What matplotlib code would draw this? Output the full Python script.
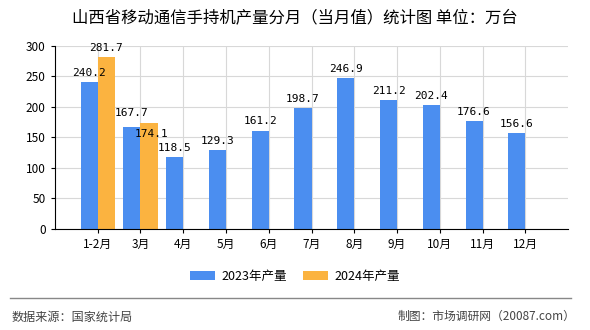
import matplotlib.pyplot as plt
import numpy as np

plt.rcParams['font.family'] = ['Noto Sans CJK SC', 'DejaVu Sans']

months = ['1-2月', '3月', '4月', '5月', '6月', '7月', '8月', '9月', '10月', '11月', '12月']
prod_2023 = [240.2, 167.7, 118.5, 129.3, 161.2, 198.7, 246.9, 211.2, 202.4, 176.6, 156.6]
prod_2024 = [281.7, 174.1]

blue = '#4b8ef0'
orange = '#fbb340'

fig = plt.figure(figsize=(5.9, 3.3), dpi=100)
ax = fig.add_axes([0.093, 0.306, 0.87, 0.555])

x = np.arange(len(months))
w = 0.4
ax.bar(x - w / 2, prod_2023, w, color=blue, label='2023年产量', zorder=2)
ax.bar(x[:len(prod_2024)] + w / 2, prod_2024, w, color=orange, label='2024年产量', zorder=2)

# value labels above the bars
for i, (xi, v) in enumerate(zip(x, prod_2023)):
    dy = 6 if i == 1 else 3
    ax.annotate(f'{v}', (xi - w / 2, v), xytext=(0, dy), textcoords='offset points',
                ha='center', va='bottom', fontsize=8, family='DejaVu Sans Mono')
for i, (xi, v) in enumerate(zip(x, prod_2024)):
    dy = 3 if i == 0 else -12   # 3月 label pushed down to clear its neighbour
    ax.annotate(f'{v}', (xi + w / 2 + 0.05 * i, v), xytext=(0, dy), textcoords='offset points',
                ha='center', va='bottom', fontsize=8, family='DejaVu Sans Mono')

ax.set_xlim(-1, 11)
ax.set_ylim(0, 300)
ax.set_yticks(range(0, 301, 50))
ax.set_xticks(x)
ax.set_xticklabels(months)
ax.tick_params(labelsize=8.5, length=3)
ax.grid(color='#d8d8d8', linewidth=0.8, zorder=0)
for s in ['top', 'right']:
    ax.spines[s].set_visible(False)
ax.spines['left'].set_color('black')
ax.spines['bottom'].set_color('black')

fig.text(0.5, 0.945, '山西省移动通信手持机产量分月（当月值）统计图 单位：万台',
         ha='center', va='center', fontsize=11.8)

fig.legend(loc='center', bbox_to_anchor=(0.5, 0.162), ncol=2, frameon=False,
           fontsize=9, handlelength=2.0, handleheight=0.8, handletextpad=0.5,
           columnspacing=1.3)

# footer
fig.add_artist(plt.Line2D([0.017, 0.967], [0.097, 0.097], color='#888888', linewidth=1))
fig.text(0.02, 0.04, '数据来源：国家统计局', ha='left', va='center', fontsize=8.7, color='#444444')
fig.text(0.976, 0.04, '制图：市场调研网（20087.com）', ha='right', va='center', fontsize=8.5, color='#444444')

plt.savefig('out.png', dpi=100)
